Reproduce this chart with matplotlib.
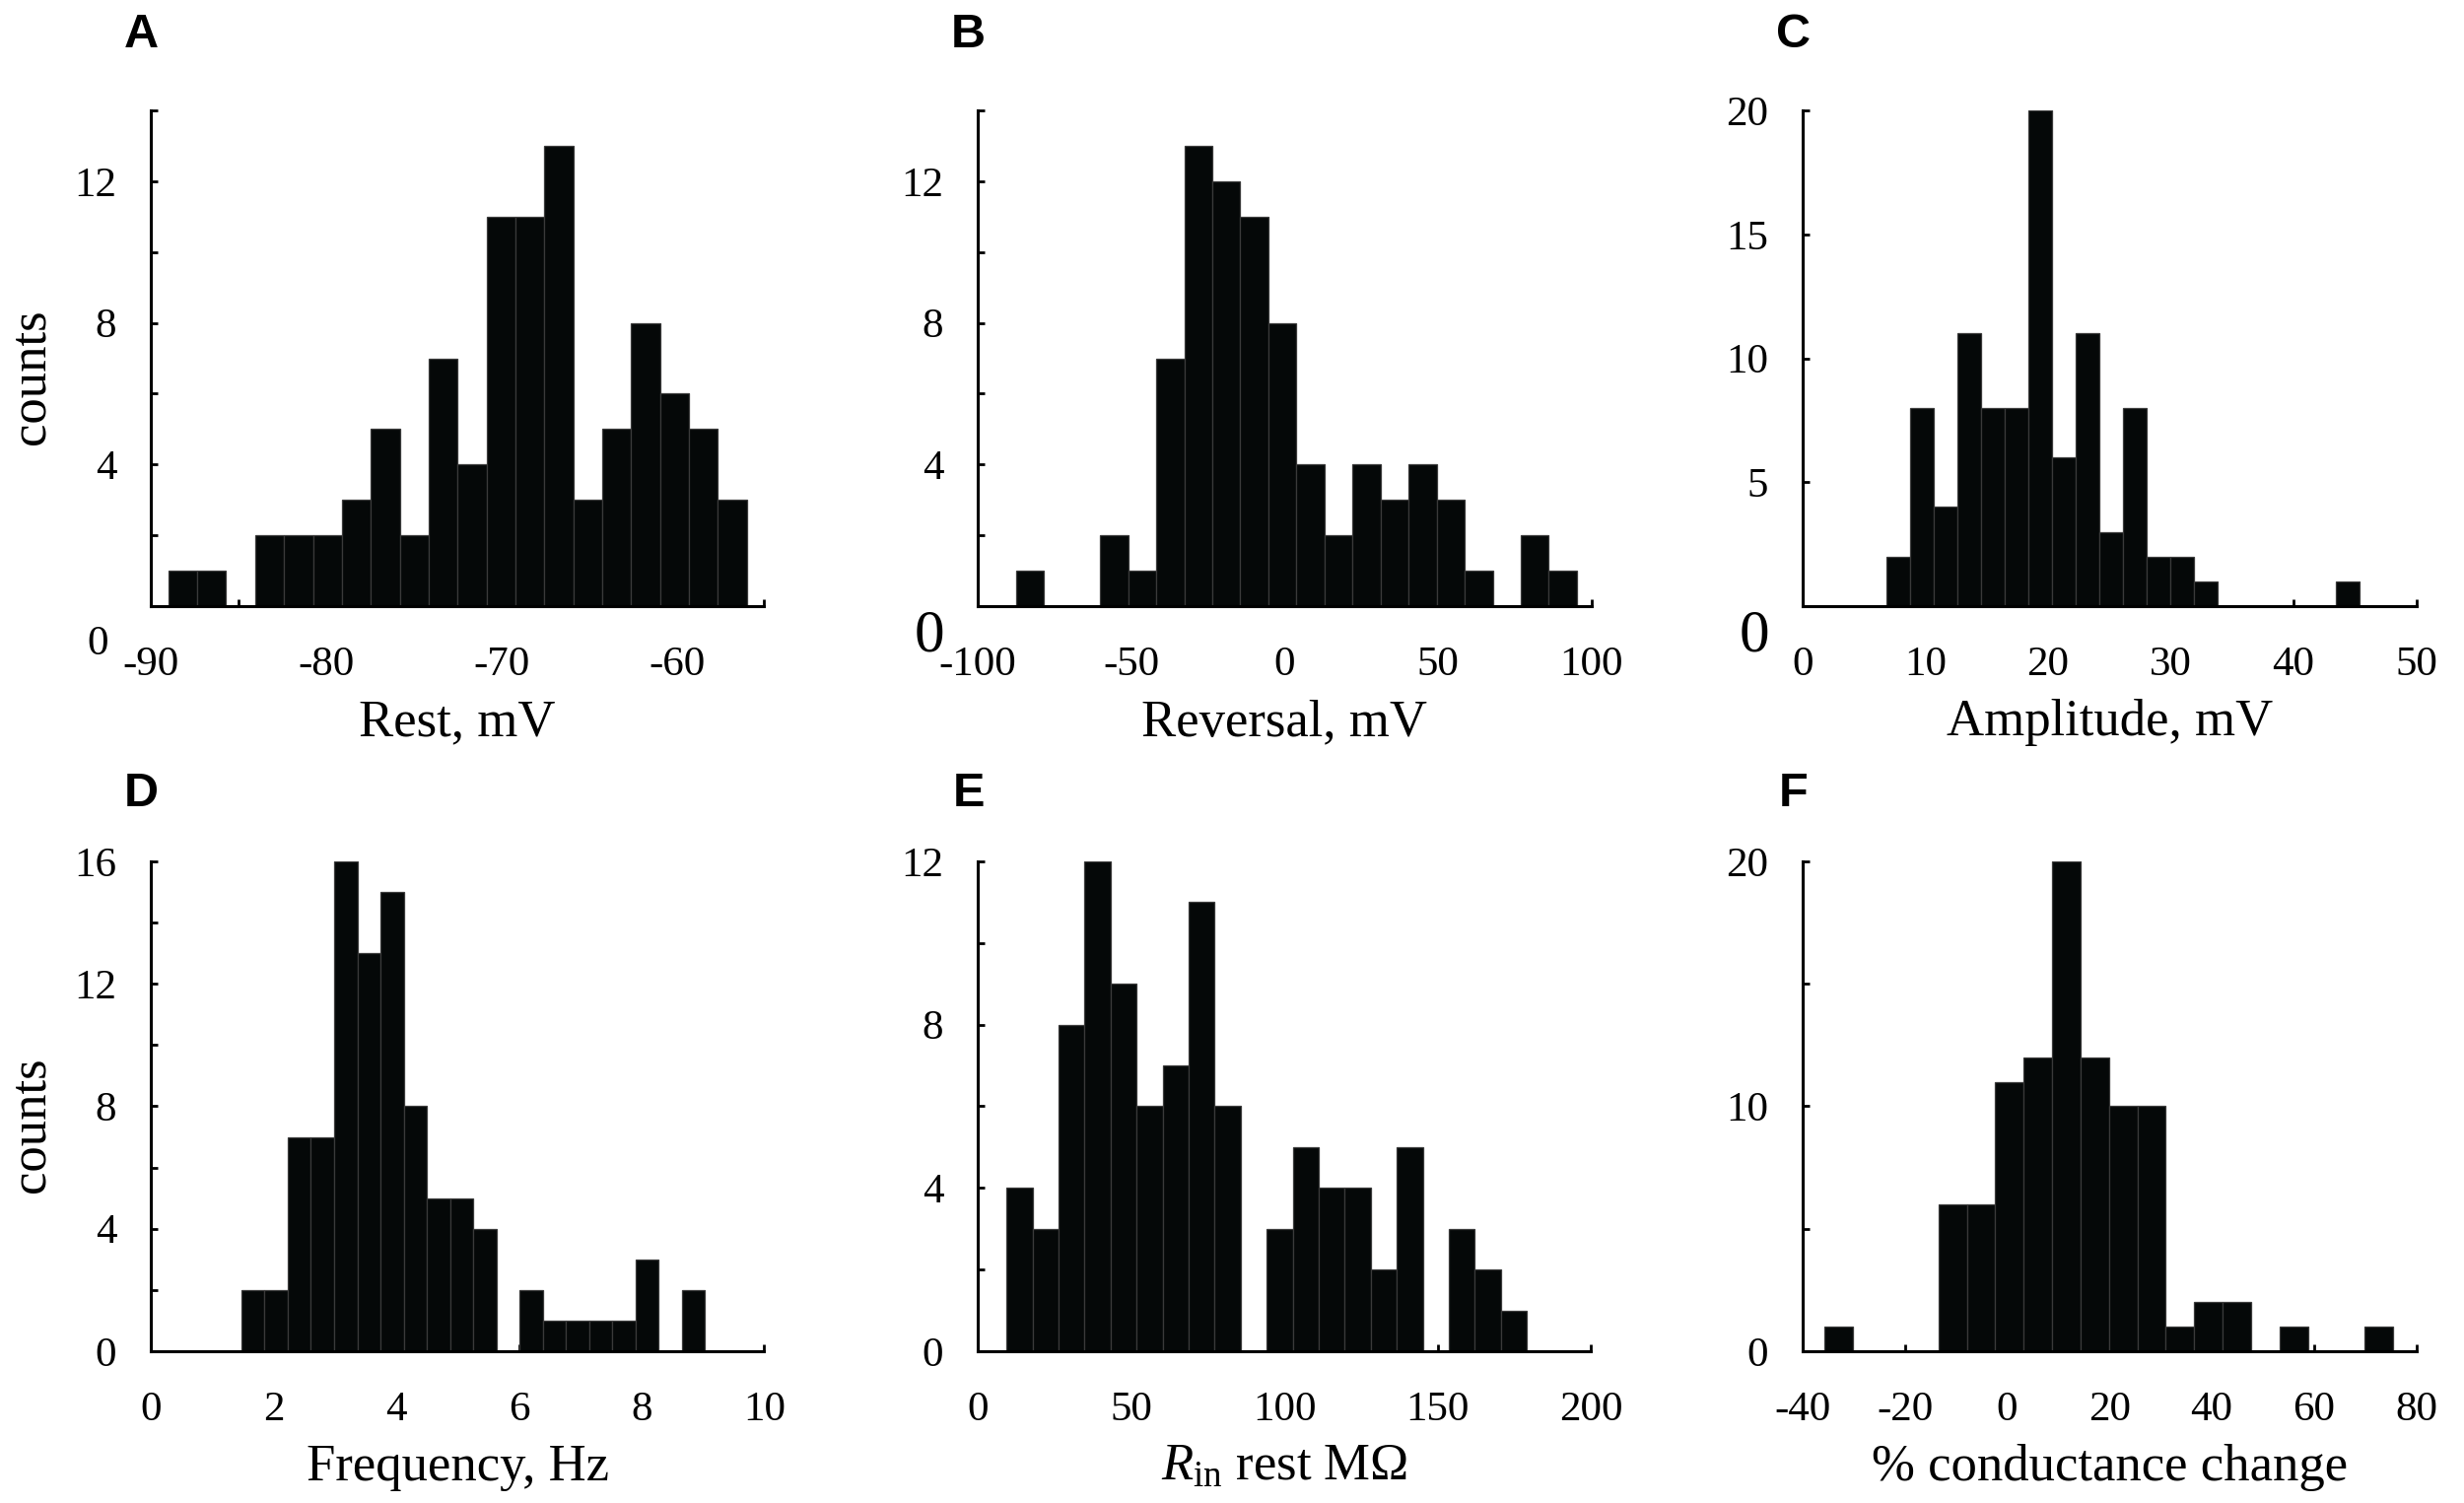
import numpy as np
import matplotlib
matplotlib.use("Agg")
import matplotlib.pyplot as plt

plt.rcParams['font.family'] = ['Liberation Serif', 'DejaVu Serif']
plt.rcParams['mathtext.fontset'] = 'custom'
plt.rcParams['mathtext.rm'] = 'Liberation Serif'
plt.rcParams['mathtext.it'] = 'Liberation Serif:italic'

# ---- data (20 equal bins per panel) ----
rest_counts = [1, 1, 0, 2, 2, 2, 3, 5, 2, 7, 4, 11, 11, 13, 3, 5, 8, 6, 5, 3]
rest_start, rest_width = -89.0, 1.65

rev_counts = [1, 0, 0, 2, 1, 7, 13, 12, 11, 8, 4, 2, 4, 3, 4, 3, 1, 0, 2, 1]
rev_start, rev_width = -87.5, 9.14

amp_counts = [2, 8, 4, 11, 8, 8, 20, 6, 11, 3, 8, 2, 2, 1, 0, 0, 0, 0, 0, 1]
amp_start, amp_width = 6.86, 1.925

freq_counts = [2, 2, 7, 7, 16, 13, 15, 8, 5, 5, 4, 0, 2, 1, 1, 1, 1, 3, 0, 2]
freq_start, freq_width = 1.476, 0.378

rin_counts = [4, 3, 8, 12, 9, 6, 7, 11, 6, 0, 3, 5, 4, 4, 2, 5, 0, 3, 2, 1]
rin_start, rin_width = 9.4, 8.48

cond_counts = [1, 0, 0, 0, 6, 6, 11, 12, 20, 12, 10, 10, 1, 2, 2, 0, 1, 0, 0, 1]
cond_start, cond_width = -35.7, 5.56

panels = [
    dict(letter='A', counts=rest_counts, start=rest_start, width=rest_width,
         xlim=(-90, -55), xticks=np.arange(-90, -54, 5), xlabels=[-90, -80, -70, -60],
         ylim=14, yticks=np.arange(0, 15, 2), ylabels=[4, 8, 12],
         xlabel='Rest, mV', zero='small'),
    dict(letter='B', counts=rev_counts, start=rev_start, width=rev_width,
         xlim=(-100, 100), xticks=np.arange(-100, 101, 50), xlabels=[-100, -50, 0, 50, 100],
         ylim=14, yticks=np.arange(0, 15, 2), ylabels=[4, 8, 12],
         xlabel='Reversal, mV', zero='big'),
    dict(letter='C', counts=amp_counts, start=amp_start, width=amp_width,
         xlim=(0, 50), xticks=np.arange(0, 51, 10), xlabels=[0, 10, 20, 30, 40, 50],
         ylim=20, yticks=np.arange(0, 21, 5), ylabels=[5, 10, 15, 20],
         xlabel='Amplitude, mV', zero='big'),
    dict(letter='D', counts=freq_counts, start=freq_start, width=freq_width,
         xlim=(0, 10), xticks=np.arange(0, 11, 2), xlabels=[0, 2, 4, 6, 8, 10],
         ylim=16, yticks=np.arange(0, 17, 2), ylabels=[0, 4, 8, 12, 16],
         xlabel='Frequency, Hz', zero=None),
    dict(letter='E', counts=rin_counts, start=rin_start, width=rin_width,
         xlim=(0, 200), xticks=np.arange(0, 201, 50), xlabels=[0, 50, 100, 150, 200],
         ylim=12, yticks=np.arange(0, 13, 2), ylabels=[0, 4, 8, 12],
         xlabel=r'$\mathit{R}_{\mathrm{in}}$ rest M$\Omega$', zero=None),
    dict(letter='F', counts=cond_counts, start=cond_start, width=cond_width,
         xlim=(-40, 80), xticks=np.arange(-40, 81, 20), xlabels=[-40, -20, 0, 20, 40, 60, 80],
         ylim=20, yticks=np.arange(0, 21, 5), ylabels=[0, 10, 20],
         xlabel='% conductance change', zero=None),
]

fig = plt.figure(figsize=(25, 15.25), dpi=100)
lefts = [0.0612, 0.3968, 0.7316]
bottoms = [0.5967, 0.101]
heights = [0.3298, 0.3259]
w = 0.249
letter_y = [1.153, 1.138]

for i, p in enumerate(panels):
    row, col = divmod(i, 3)
    ax = fig.add_axes([lefts[col], bottoms[row], w, heights[row]])
    counts = np.array(p['counts'])
    edges = p['start'] + p['width'] * np.arange(len(counts))
    ax.bar(edges, counts, width=p['width'], align='edge',
           color='#050808', edgecolor='#3a3a3a', linewidth=0.9, zorder=2)

    ax.set_xlim(*p['xlim'])
    ax.set_ylim(0, p['ylim'])
    for s in ['top', 'right']:
        ax.spines[s].set_visible(False)
    for s in ['left', 'bottom']:
        ax.spines[s].set_linewidth(2.2)
        ax.spines[s].set_zorder(3)

    ax.set_xticks(p['xticks'])
    ax.set_xticklabels([f'{int(t)}' if int(t) in p['xlabels'] else '' for t in p['xticks']])
    ax.set_yticks(p['yticks'])
    ax.set_yticklabels([f'{int(t)}' if int(t) in p['ylabels'] else '' for t in p['yticks']])
    ax.tick_params(direction='in', length=5, width=2, labelsize=31)
    ax.tick_params(axis='y', pad=25)
    ax.tick_params(axis='x', pad=29)

    ax.set_xlabel(p['xlabel'], fontsize=38, labelpad=11)
    if col == 0:
        ax.set_ylabel('counts', fontsize=38)
        ax.yaxis.set_label_coords(-0.156, 0.463)

    if p['zero'] == 'small':
        ax.annotate('0', xy=(0, 0), xycoords=('axes fraction', 'data'),
                    xytext=(-39, -28), textcoords='offset points',
                    ha='center', va='center', fontsize=31)
    elif p['zero'] == 'big':
        ax.annotate('0', xy=(0, 0), xycoords=('axes fraction', 'data'),
                    xytext=(-35, -22), textcoords='offset points',
                    ha='center', va='center', fontsize=44)

    ax.text(-0.015, letter_y[row], p['letter'],
            transform=ax.transAxes, fontsize=35, fontweight='bold',
            family='Liberation Sans', ha='center', va='center')

fig.savefig('out.png', dpi=100, facecolor='white')
